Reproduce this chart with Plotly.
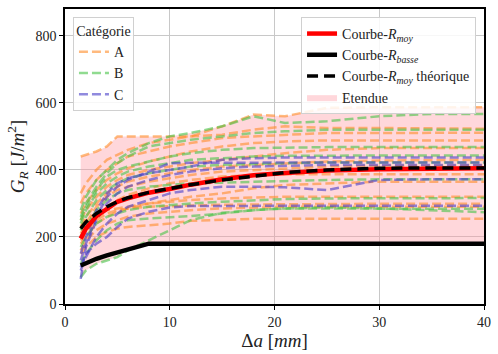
import plotly.graph_objects as go

X = [1.5, 2, 3, 4, 5, 6, 8, 10, 12, 15, 18, 21, 25, 30, 35, 40]

cat_A = [
    [440, 445, 455, 470, 500, 500, 500, 500, 500, 530, 565, 560, 585, 587, 587, 587],
    [330, 360, 400, 430, 445, 460, 480, 490, 500, 505, 520, 530, 525, 525, 524, 523],
    [300, 330, 370, 400, 420, 440, 455, 470, 480, 495, 500, 505, 510, 510, 511, 511],
    [270, 300, 340, 370, 390, 405, 425, 440, 455, 470, 480, 485, 488, 488, 488, 488],
    [250, 280, 320, 350, 370, 385, 400, 410, 420, 430, 440, 450, 460, 465, 465, 465],
    [230, 260, 300, 330, 350, 365, 380, 390, 400, 410, 415, 420, 425, 428, 430, 430],
    [210, 240, 290, 320, 340, 350, 365, 375, 385, 395, 400, 405, 410, 412, 413, 413],
    [200, 220, 260, 290, 310, 325, 345, 360, 370, 380, 385, 387, 387, 387, 387, 387],
    [180, 200, 240, 260, 275, 285, 300, 310, 320, 330, 345, 355, 360, 365, 365, 365],
    [230, 250, 270, 280, 285, 290, 300, 305, 310, 315, 318, 320, 320, 320, 320, 320],
    [190, 215, 250, 270, 280, 285, 290, 292, 295, 296, 297, 298, 299, 299, 299, 299],
    [160, 190, 220, 240, 250, 260, 270, 275, 280, 285, 288, 290, 290, 290, 290, 290],
    [150, 170, 200, 215, 225, 230, 235, 240, 248, 252, 254, 254, 254, 254, 254, 254],
]
cat_B = [
    [280, 320, 370, 400, 430, 450, 480, 500, 510, 530, 560, 540, 545, 560, 567, 567],
    [260, 300, 350, 390, 420, 440, 470, 480, 490, 500, 510, 515, 520, 520, 520, 520],
    [250, 290, 340, 380, 400, 410, 425, 440, 450, 460, 465, 467, 468, 468, 468, 468],
    [240, 280, 330, 360, 380, 395, 410, 420, 430, 435, 440, 442, 443, 443, 443, 443],
    [220, 260, 310, 340, 360, 375, 390, 400, 410, 415, 418, 420, 422, 422, 422, 422],
    [200, 230, 280, 310, 330, 340, 350, 355, 360, 362, 365, 368, 370, 372, 372, 372],
    [170, 200, 240, 260, 270, 280, 290, 295, 300, 305, 310, 313, 315, 316, 316, 316],
    [120, 150, 190, 220, 240, 250, 255, 258, 262, 270, 280, 285, 285, 285, 284, 284],
    [80, 100, 120, 130, 140, 160, 190, 220, 250, 272, 280, 285, 288, 285, 280, 274],
]
cat_C = [
    [130, 180, 260, 320, 350, 370, 395, 420, 421, 422, 422, 422, 422, 422, 422, 422],
    [150, 200, 280, 330, 360, 375, 390, 400, 410, 430, 435, 437, 437, 437, 437, 437],
    [100, 140, 200, 240, 270, 290, 310, 330, 340, 350, 350, 348, 340, 370, 372, 372],
    [110, 150, 180, 200, 230, 255, 275, 288, 292, 293, 293, 293, 293, 293, 293, 293],
    [75, 170, 250, 300, 330, 350, 370, 385, 395, 405, 410, 413, 415, 415, 415, 415],
]

r_moy = [195, 225, 262, 285, 305, 315, 332, 343, 356, 372, 384, 391, 398, 402, 404, 405]
r_moy_theo = [225, 245, 270, 290, 305, 317, 333, 345, 356, 370, 382, 392, 400, 405, 406, 406]
r_basse = [115, 122, 135, 145, 153, 162, 180, 180, 180, 180, 180, 180, 180, 180, 180, 180]

categories = ["A", "B", "C"]
colors = {"A": "rgba(255,140,40,0.6)", "B": "rgba(70,195,70,0.6)", "C": "rgba(70,60,200,0.6)"}
series = {"A": cat_A, "B": cat_B, "C": cat_C}

all_curves = cat_A + cat_B + cat_C
upper = [max(c[i] for c in all_curves) for i in range(len(X))]
lower = [min(min(c[i] for c in all_curves), r_basse[i]) for i in range(len(X))]

FONT = "Liberation Serif, Times New Roman, serif"
fig = go.Figure()

# Etendue fill
fig.add_trace(go.Scatter(x=X, y=lower, mode="lines", line=dict(width=0),
                         showlegend=False, hoverinfo="skip", legend="legend2"))
fig.add_trace(go.Scatter(x=X, y=upper, mode="lines", line=dict(width=0),
                         fill="tonexty", fillcolor="rgba(255,150,160,0.38)",
                         name="Etendue", legend="legend2", legendrank=4))

for cat in categories:
    for k, ys in enumerate(series[cat]):
        fig.add_trace(go.Scatter(x=X, y=ys, mode="lines",
                                 line=dict(color=colors[cat], width=2.5, dash="9px,4px"),
                                 name=cat, legendgroup=cat, showlegend=(k == 0),
                                 legend="legend"))

fig.add_trace(go.Scatter(x=X, y=r_moy, mode="lines", line=dict(color="red", width=4.5),
                         name="Courbe-<i>R</i><sub><i>moy</i></sub>", legend="legend2", legendrank=1))
fig.add_trace(go.Scatter(x=X, y=r_basse, mode="lines", line=dict(color="black", width=4.5),
                         name="Courbe-<i>R</i><sub><i>basse</i></sub>", legend="legend2", legendrank=2))
fig.add_trace(go.Scatter(x=X, y=r_moy_theo, mode="lines",
                         line=dict(color="black", width=3.5, dash="11px,6px"),
                         name="Courbe-<i>R</i><sub><i>moy</i></sub> théorique", legend="legend2", legendrank=3))

axis_common = dict(showline=True, linecolor="black", linewidth=1.5, mirror=True,
                   ticks="outside", ticklen=4, tickcolor="black",
                   showgrid=True, gridcolor="#c8c8c8", gridwidth=1, zeroline=False,
                   tickfont=dict(family=FONT, size=14, color="#222"))

fig.update_layout(
    width=498, height=354,
    margin=dict(l=65, r=9, t=7, b=50),
    paper_bgcolor="white", plot_bgcolor="white",
    font=dict(family=FONT, size=14, color="#222"),
    xaxis=dict(range=[0, 40], tickvals=[0, 10, 20, 30, 40],
               title=dict(text="Δ<i>a</i> [<i>mm</i>]", font=dict(family=FONT, size=19), standoff=4),
               **axis_common),
    yaxis=dict(range=[0, 880], tickvals=[0, 200, 400, 600, 800],
               title=dict(text="<i>G</i><sub><i>R</i></sub> [<i>J</i>/<i>m</i><sup>2</sup>]",
                          font=dict(family=FONT, size=19), standoff=6),
               **axis_common),
    legend=dict(x=0.019, y=0.973, xanchor="left", yanchor="top",
                bgcolor="rgba(255,255,255,0.85)", bordercolor="#d0d0d0", borderwidth=1,
                title=dict(text="Catégorie", side="top center", font=dict(family=FONT, size=14)),
                font=dict(family=FONT, size=14), tracegroupgap=0, itemwidth=30,
                traceorder="normal"),
    legend2=dict(x=0.981, y=0.973, xanchor="right", yanchor="top",
                 bgcolor="rgba(255,255,255,0.85)", bordercolor="#d0d0d0", borderwidth=1,
                 font=dict(family=FONT, size=14), tracegroupgap=0, itemwidth=30,
                 traceorder="normal"),
)

fig.write_html("out.html", config={"displayModeBar": False},
               post_script="document.body.style.margin='0';")
